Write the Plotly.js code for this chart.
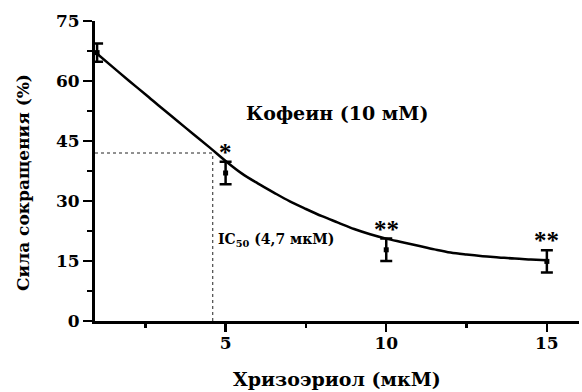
<!DOCTYPE html>
<html>
<head>
<meta charset="utf-8">
<script src="https://cdn.plot.ly/plotly-3.0.1.min.js"></script>
<style>
  html, body { margin: 0; padding: 0; background: #fff; }
  #chart { width: 582px; height: 392px; }
</style>
</head>
<body>
<div id="chart"></div>
<script>
// Measured points (concentration, µM) with mean ± SEM
const concentrations = [1, 5, 10, 15];
const forceMean = [67.1, 37.0, 17.8, 14.9];
const forceSem = [2.3, 2.8, 2.8, 2.8];
const significance = ['', '*', '**', '**'];

// Fitted curve
const fitX = [1, 1.5, 2, 2.5, 3, 3.5, 4, 4.5, 5, 5.5, 6, 6.5, 7, 7.5, 8, 8.5, 9, 9.5, 10, 10.5, 11, 11.5, 12, 12.5, 13, 13.5, 14, 14.5, 15];
const fitY = [66.8, 63.4, 60.0, 56.7, 53.3, 50.0, 46.7, 43.4, 40.0, 36.9, 34.4, 32.1, 29.9, 28.0, 26.2, 24.6, 23.0, 21.7, 20.6, 19.7, 18.8, 17.9, 17.1, 16.6, 16.2, 15.9, 15.6, 15.4, 15.2];

// IC50 guide
const ic50X = 4.6;
const ic50Level = 42;
const ic50Label = 'IC<sub>50</sub> (4,7 мкМ)';

// Axes
const xTicks = [5, 10, 15];
const yTicks = [0, 15, 30, 45, 60, 75];
const xTitle = 'Хризоэриол (мкМ)';
const yTitle = 'Сила сокращения (%)';
const stimulusLabel = 'Кофеин (10 мМ)';

const serif = 'DejaVu Serif, Liberation Serif, serif';
const ink = '#000';
const xStart = 0.935;

const traces = [
  {
    x: fitX, y: fitY, mode: 'lines', type: 'scatter',
    line: { color: ink, width: 2.5, shape: 'spline' },
    hoverinfo: 'skip', cliponaxis: false
  },
  {
    x: concentrations, y: forceMean, mode: 'markers', type: 'scatter',
    marker: { color: ink, size: 5, symbol: 'square' },
    error_y: { type: 'data', array: forceSem, visible: true, color: ink, thickness: 2.5, width: 6 },
    cliponaxis: false
  }
];

const annotations = concentrations.map((c, i) => ({
  x: c, y: forceMean[i] + forceSem[i], xref: 'x', yref: 'y',
  text: significance[i], showarrow: false,
  xanchor: 'center', yanchor: 'bottom', yshift: -6,
  font: { family: 'Liberation Serif, serif', size: 25, color: ink, weight: 'bold' }
})).filter(a => a.text);

annotations.push(
  {
    x: 0.5, y: 0.695, xref: 'paper', yref: 'paper', text: stimulusLabel, showarrow: false,
    xanchor: 'center', yanchor: 'middle',
    font: { family: serif, size: 19, color: ink, weight: 'bold' }
  },
  {
    x: ic50X, y: 0.27, xref: 'x', yref: 'paper', text: ic50Label, showarrow: false,
    xanchor: 'left', yanchor: 'middle', xshift: 3,
    font: { family: serif, size: 14, color: ink, weight: 'bold' }
  },
  {
    x: 0, y: 0.46, xref: 'paper', yref: 'paper', text: yTitle, showarrow: false,
    textangle: -90, xanchor: 'center', yanchor: 'middle', xshift: -72,
    font: { family: serif, size: 17, color: ink, weight: 'bold' }
  },
  {
    x: 0.5, y: 0, xref: 'paper', yref: 'paper', text: xTitle, showarrow: false,
    xanchor: 'center', yanchor: 'middle', yshift: -58,
    font: { family: serif, size: 19, color: ink, weight: 'bold' }
  }
);

const guide = { color: '#222', width: 1, dash: '3px,3px' };
const shapes = [
  { type: 'line', xref: 'x', yref: 'y', x0: xStart, x1: ic50X, y0: ic50Level, y1: ic50Level, line: guide },
  { type: 'line', xref: 'x', yref: 'y', x0: ic50X, x1: ic50X, y0: 0, y1: ic50Level, line: guide }
];

const layout = {
  width: 582, height: 392,
  margin: { l: 95, r: 3, t: 21, b: 71, pad: 0 },
  paper_bgcolor: '#fff', plot_bgcolor: '#fff',
  showlegend: false,
  xaxis: {
    range: [xStart, 16], tickvals: xTicks, ticks: 'outside', ticklen: 8, tickwidth: 2.5, tickcolor: ink,
    showline: true, linewidth: 3, linecolor: ink, showgrid: false, zeroline: false,
    ticklabelstandoff: -3,
    tickfont: { family: serif, size: 17, color: ink, weight: 'bold' },
    minor: { dtick: 2.5, tick0: 0, ticks: 'outside', ticklen: 4, tickwidth: 2.5, tickcolor: ink, showgrid: false }
  },
  yaxis: {
    range: [0, 75], tickvals: yTicks, ticks: 'outside', ticklen: 9, tickwidth: 2.5, tickcolor: ink,
    showline: true, linewidth: 3, linecolor: ink, showgrid: false, zeroline: false,
    tickfont: { family: serif, size: 17, color: ink, weight: 'bold' },
    minor: { dtick: 7.5, tick0: 0, ticks: 'outside', ticklen: 5, tickwidth: 2.5, tickcolor: ink, showgrid: false }
  },
  annotations: annotations,
  shapes: shapes
};

Plotly.newPlot('chart', traces, layout, { staticPlot: true, displayModeBar: false });
</script>
</body>
</html>
